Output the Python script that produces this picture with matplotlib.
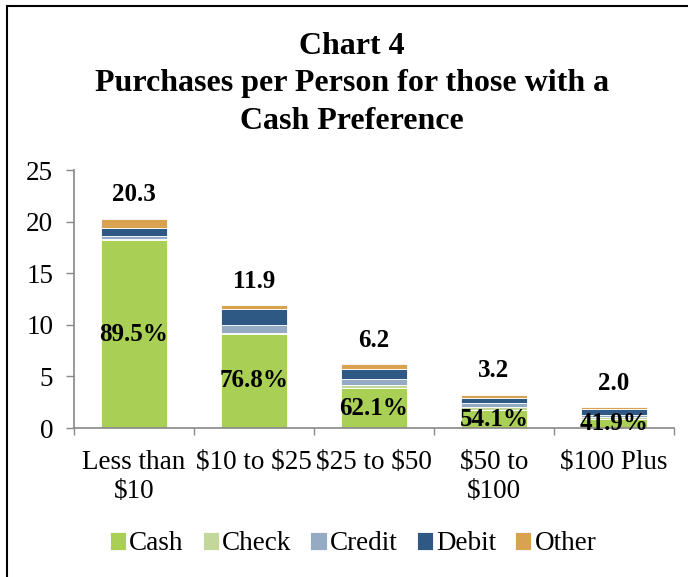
import matplotlib
matplotlib.use("Agg")
import matplotlib.pyplot as plt
import numpy as np
from matplotlib.patches import Rectangle

categories = ["Less than\n\\$10", "\\$10 to \\$25", "\\$25 to \\$50", "\\$50 to\n\\$100", "\\$100 Plus"]
series_names = ["Cash", "Check", "Credit", "Debit", "Other"]
cash = [18.17, 9.14, 3.85, 1.73, 0.84]
check = [0.10, 0.10, 0.30, 0.35, 0.20]
credit = [0.30, 0.75, 0.60, 0.30, 0.25]
debit = [0.80, 1.50, 1.00, 0.55, 0.57]
other = [0.93, 0.41, 0.45, 0.27, 0.14]
totals = ["20.3", "11.9", "6.2", "3.2", "2.0"]
cash_pct = ["89.5%", "76.8%", "62.1%", "54.1%", "41.9%"]
colors = ["#AACF55", "#C4D79B", "#95ABC3", "#2E5985", "#D9A250"]

plt.rcParams['font.family'] = ['Liberation Serif', 'DejaVu Serif']

fig = plt.figure(figsize=(6.88, 5.77), dpi=100)
fig.patch.set_facecolor("white")
# border (left and top only visible)
fig.add_artist(Rectangle((7/688, -0.1), 1.2, 1 - 6/577 + 0.1, transform=fig.transFigure,
                         fill=False, edgecolor="black", linewidth=1.5))

ax = fig.add_axes([74/688, 1 - 428/577, 600/688, (428 - 170)/577])
x = np.arange(len(categories))
bottom = np.zeros(len(categories))
data = [cash, check, credit, debit, other]
bars_list = []
for name, vals, c in zip(series_names, data, colors):
    b = ax.bar(x, vals, width=0.55, bottom=bottom, color=c, label=name,
               edgecolor="white", linewidth=0.6)
    bars_list.append(b)
    bottom = bottom + np.array(vals)

for i in range(len(categories)):
    ax.annotate(totals[i], (x[i], bottom[i]), xytext=(0, 9), textcoords="offset points",
                ha="center", va="bottom", fontsize=18, fontweight="bold")
    ax.text(x[i], cash[i] / 2, cash_pct[i], ha="center", va="center",
            fontsize=18, fontweight="bold")

ax.set_xlim(-0.5, len(categories) - 0.5)
ax.set_ylim(0, 25)
ax.set_yticks([0, 5, 10, 15, 20, 25])
ax.tick_params(axis="y", direction="out", length=6, width=1, color="#888888",
               labelsize=19.5, pad=9)
ax.set_xticks(np.arange(-0.5, len(categories), 1.0))
ax.set_xticklabels([])
ax.tick_params(axis="x", which="major", direction="out", length=5, width=1, color="#888888")
ax.set_xticks(x, minor=True)
ax.set_xticklabels(categories, minor=True, fontsize=19.5, linespacing=1.2)
ax.tick_params(axis="x", which="minor", length=0, pad=16)

for s in ["top", "right"]:
    ax.spines[s].set_visible(False)
for s in ["left", "bottom"]:
    ax.spines[s].set_color("#888888")
    ax.spines[s].set_linewidth(1.2)

fig.text(352/688, 1 - 84/577, "Chart 4\nPurchases per Person for those with a\nCash Preference",
         ha="center", va="center", fontsize=23, fontweight="bold", linespacing=1.38)

fig.legend(handles=bars_list, labels=series_names, loc="center", ncol=5,
           bbox_to_anchor=(353/688, 1 - 544/577), frameon=False, fontsize=19.5,
           handlelength=0.6, handleheight=0.6, handletextpad=0.12, columnspacing=0.7)

fig.savefig("out.png", dpi=100, facecolor="white")
